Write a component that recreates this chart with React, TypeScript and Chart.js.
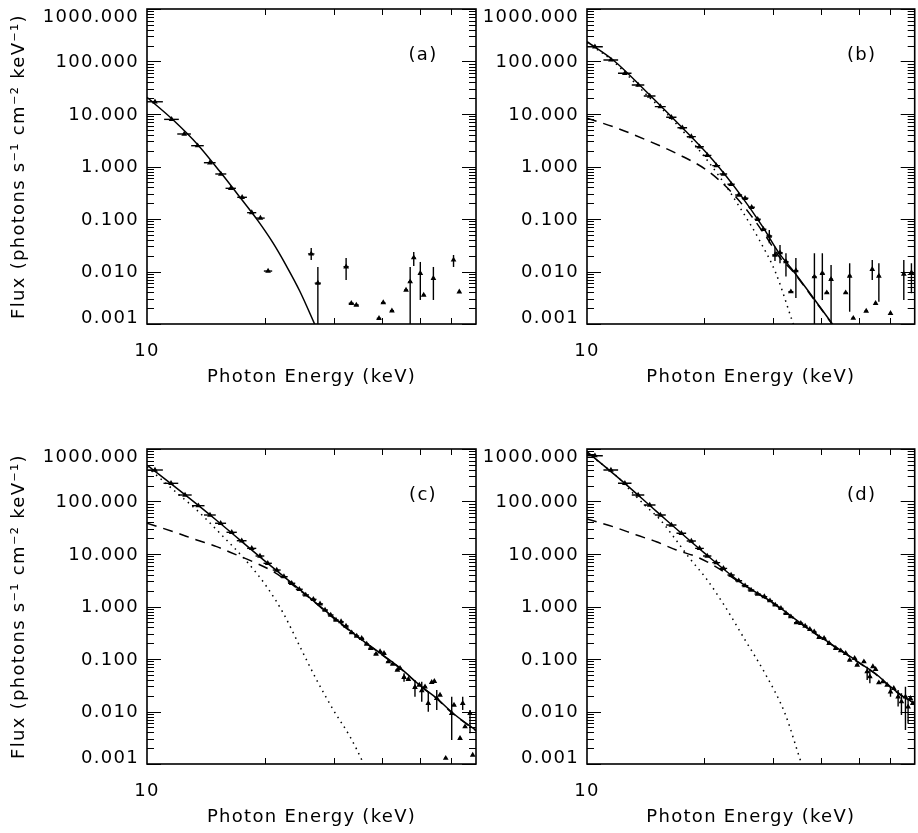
import React, { useEffect, useRef } from 'react';
import { Chart, registerables } from 'chart.js';
Chart.register(...registerables);

// ---------- axes ----------
const X_MIN = 10;
const X_MAX = 69.4;
const Y_MIN = 0.001;
const Y_MAX = 1000;
const yTickValues = [1000, 100, 10, 1, 0.1, 0.01, 0.001];
const yTickLabels = ['1000.000', '100.000', '10.000', '1.000', '0.100', '0.010', '0.001'];
const yMinorMultipliers = [2, 3, 4, 5, 6, 7, 8, 9];
const xTickValues = [10];
const xTickLabels = ['10'];
const xMinorTicks = [20, 30, 40, 50, 60];
const BIN_HALF_WIDTH = 0.5; // keV
const xTitle = 'Photon Energy (keV)';
const yTitle = 'Flux (photons s\u207B\u00B9 cm\u207B\u00B2 keV\u207B\u00B9)';

// ---------- panel (a) ----------
const aE = [10.48, 11.56, 12.45, 13.47, 14.48, 15.45, 16.38, 17.51, 18.53, 19.5, 20.4, 26.3, 27.35, 32.3, 33.3, 34.3, 39.2, 40.2, 42.3, 45.97, 47.1, 48.1, 50.0, 51.0, 54.0, 60.8, 62.9];
const aF = [17.1, 7.9, 4.16, 2.49, 1.18, 0.72, 0.384, 0.259, 0.132, 0.104, 0.0102, 0.0216, 0.006, 0.0123, 0.00248, 0.0023, 0.00128, 0.00255, 0.00179, 0.00444, 0.0064, 0.0183, 0.0092, 0.00356, 0.0074, 0.0166, 0.0041];
const aErrE = [26.3, 27.35, 32.3, 47.1, 48.1, 50.0, 54.0, 60.8];
const aErrHi = [0.028, 0.0122, 0.0181, 0.0122, 0.0235, 0.0152, 0.0122, 0.0206];
const aErrLo = [0.0166, 0.0004, 0.00689, 0.0004, 0.0127, 0.00287, 0.00287, 0.0122];
const aModelE = [10, 11.67, 13.52, 15.36, 17.27, 19.23, 21.0, 22.72, 24.56, 26.83, 27.5];
const aModelF = [20.8, 7.69, 2.55, 0.8, 0.262, 0.092, 0.035, 0.0128, 0.0043, 0.001, 0.00066];

// ---------- panel (b) ----------
const bE = [10.48, 11.52, 12.51, 13.53, 14.49, 15.43, 16.47, 17.57, 18.53, 19.45, 20.36, 21.47, 22.4, 23.44, 24.52, 25.46, 26.47, 27.43, 28.37, 29.38, 30.38, 31.3, 32.42, 33.38, 34.38, 38.36, 40.2, 41.27, 42.33, 46.15, 47.25, 48.27, 52.1, 54.0, 55.08, 56.15, 60.15, 65.07, 68.07];
const bF = [191, 107, 59.6, 35.7, 22.0, 13.8, 8.65, 5.48, 3.70, 2.38, 1.63, 1.04, 0.72, 0.458, 0.286, 0.248, 0.167, 0.0986, 0.0637, 0.0474, 0.0206, 0.0228, 0.0154, 0.00412, 0.0104, 0.00796, 0.0092, 0.00395, 0.0071, 0.00395, 0.0082, 0.00129, 0.00177, 0.011, 0.00248, 0.0082, 0.0016, 0.00896, 0.0095];
const bErrE = [29.38, 30.38, 31.3, 32.42, 34.38, 38.36, 40.2, 42.33, 47.25, 54.0, 56.15, 65.07, 68.07];
const bErrHi = [0.0617, 0.0296, 0.032, 0.0222, 0.0181, 0.0222, 0.0222, 0.0133, 0.0143, 0.0166, 0.0143, 0.0166, 0.0143];
const bErrLo = [0.0344, 0.0158, 0.0143, 0.008, 0.00313, 0.0004, 0.00287, 0.0004, 0.00171, 0.00689, 0.00266, 0.00287, 0.00385];
const bModelE = [10, 11.67, 14.21, 17.29, 21.04, 24.62, 28.24, 31.16, 33.71, 37.93, 42.66, 44.0];
const bModelF = [238, 107, 26.6, 6.17, 1.33, 0.308, 0.0715, 0.0222, 0.0107, 0.0033, 0.001, 0.00073];
const bThermE = [10, 11.67, 14.21, 15.99, 19.08, 21.89, 24.62, 27.70, 30.55, 33.71, 34.5];
const bThermF = [230, 101, 23.4, 10.3, 2.38, 0.64, 0.171, 0.0398, 0.00925, 0.0011, 0.00067];
const bNonthE = [10, 11.67, 14.21, 17.29, 20.27, 23.21, 26.12, 28.82, 31.16, 33.71, 37.93, 42.66, 44.0];
const bNonthF = [8.28, 5.73, 3.2, 1.66, 0.857, 0.356, 0.128, 0.046, 0.0191, 0.0102, 0.0032, 0.00098, 0.0007];

// ---------- panel (c) ----------
const cE = [10.48, 11.52, 12.51, 13.53, 14.49, 15.43, 16.47, 17.47, 18.53, 19.45, 20.36, 21.47, 22.4, 23.44, 24.52, 25.46, 26.63, 27.70, 28.53, 29.5, 30.43, 31.35, 32.28, 33.38, 34.38, 35.4, 36.47, 37.34, 38.52, 39.45, 40.37, 41.42, 42.5, 43.68, 44.37, 45.43, 46.6, 48.45, 49.7, 50.42, 51.4, 52.4, 53.46, 54.3, 55.08, 56.15, 58.07, 60.15, 60.97, 63.17, 64.17, 65.07, 67.0, 68.07];
const cF = [398, 222, 133, 83.2, 55.3, 38.5, 25.9, 17.9, 12.8, 9.16, 6.65, 4.95, 3.70, 2.77, 2.13, 1.66, 1.37, 1.12, 0.857, 0.689, 0.553, 0.514, 0.425, 0.317, 0.274, 0.248, 0.193, 0.16, 0.124, 0.138, 0.128, 0.0889, 0.0803, 0.0617, 0.0664, 0.0448, 0.041, 0.0289, 0.032, 0.0249, 0.0296, 0.0143, 0.0359, 0.0375, 0.0178, 0.0206, 0.00129, 0.00925, 0.0133, 0.00308, 0.0143, 0.00513, 0.00925, 0.00148];
const cErrE = [45.43, 48.45, 50.42, 52.4, 55.08, 60.15, 64.17, 67.0];
const cErrHi = [0.0533, 0.0398, 0.037, 0.0238, 0.0257, 0.0191, 0.0191, 0.0107];
const cErrLo = [0.037, 0.0191, 0.0154, 0.0099, 0.0107, 0.00287, 0.0107, 0.00385];
const cModelE = [10, 12.5, 15, 20, 25, 30, 35, 40, 45, 50, 55, 60, 65, 69.4];
const cModelF = [495, 135, 45, 7.4, 1.9, 0.62, 0.248, 0.12, 0.062, 0.031, 0.018, 0.0099, 0.0062, 0.0044];
const cThermE = [10, 12, 13.4, 15.37, 18.16, 20.24, 22.32, 24.62, 27.16, 29.96, 33.05, 35.74, 36.5];
const cThermF = [455, 140, 68.9, 24.8, 6.65, 2.38, 0.741, 0.171, 0.0398, 0.0107, 0.00331, 0.00103, 0.0007];
const cNonthE = [10, 11.67, 13.4, 15.07, 16.96, 19.07, 21.04, 25, 30, 35, 40, 45, 50, 55, 60, 65, 69.4];
const cNonthF = [38.5, 26.6, 18.5, 13.8, 9.57, 6.65, 4.6, 1.85, 0.6, 0.245, 0.118, 0.061, 0.0305, 0.0177, 0.0097, 0.0061, 0.0043];

// ---------- panel (d) ----------
const dE = [10.48, 11.52, 12.51, 13.53, 14.49, 15.43, 16.47, 17.47, 18.53, 19.45, 20.36, 21.47, 22.4, 23.44, 24.52, 25.46, 26.37, 27.43, 28.53, 29.5, 30.43, 31.47, 32.42, 33.38, 34.5, 35.4, 36.32, 37.34, 38.31, 39.44, 40.62, 41.84, 43.51, 44.82, 46.15, 47.25, 48.66, 49.4, 51.4, 52.4, 53.24, 54.2, 55.08, 56.15, 57.5, 58.97, 60.15, 61.33, 62.92, 64.17, 65.71, 66.74, 67.67, 68.6];
const dF = [745, 398, 222, 133, 85.8, 55.3, 35.7, 24.8, 17.7, 12.8, 9.16, 6.84, 5.33, 3.98, 3.1, 2.49, 2.06, 1.73, 1.54, 1.29, 1.07, 0.923, 0.741, 0.64, 0.491, 0.479, 0.425, 0.367, 0.331, 0.259, 0.248, 0.199, 0.16, 0.144, 0.128, 0.0957, 0.103, 0.0769, 0.0889, 0.0573, 0.046, 0.0715, 0.0635, 0.0354, 0.037, 0.032, 0.0238, 0.0276, 0.0191, 0.0154, 0.0191, 0.0123, 0.0178, 0.0143];
const dErrE = [52.4, 53.24, 60.15, 62.92, 64.17, 65.71, 66.74];
const dErrHi = [0.0713, 0.0617, 0.0296, 0.0257, 0.0222, 0.0296, 0.0178];
const dErrLo = [0.0398, 0.0344, 0.0191, 0.0124, 0.00857, 0.00444, 0.00596];
const dModelE = [10, 12.5, 15, 20, 25, 30, 35, 40, 45, 50, 55, 60, 65, 69.4];
const dModelF = [890, 222, 67, 10.5, 2.75, 1.18, 0.51, 0.255, 0.144, 0.085, 0.053, 0.03, 0.019, 0.0145];
const dThermE = [10, 12, 12.88, 14.21, 15.37, 16.63, 18.34, 20.24, 22.63, 25.46, 28.64, 32.22, 35.53, 36.2];
const dThermF = [840, 290, 166, 79.6, 46, 22, 8.3, 3.4, 0.99, 0.23, 0.0533, 0.00925, 0.00103, 0.0007];
const dNonthE = [10, 11.67, 13.4, 15.07, 16.96, 19.08, 21.04, 25, 30, 35, 40, 45, 50, 55, 60, 65, 69.4];
const dNonthF = [46.4, 33.1, 23, 17.1, 11.9, 8.9, 6.17, 2.7, 1.16, 0.5, 0.25, 0.141, 0.083, 0.052, 0.0295, 0.0187, 0.0143];

const FONT = '18px "DejaVu Sans", sans-serif';

const toXY = (xs: number[], ys: number[]) => xs.map((x, i) => ({ x, y: ys[i] }));

const errorBarPlugin = {
  id: 'errorBars',
  beforeDatasetsDraw(chart: any) {
    const { ctx, chartArea: ca, scales } = chart;
    const xs = scales.x, ys = scales.y;
    ctx.save();
    ctx.beginPath();
    ctx.rect(ca.left, ca.top, ca.right - ca.left, ca.bottom - ca.top);
    ctx.clip();
    ctx.strokeStyle = '#000';
    ctx.lineWidth = 1.4;
    chart.data.datasets.forEach((ds: any) => {
      if (!ds.errE) return;
      ds.data.forEach((p: any) => {
        const yp = ys.getPixelForValue(p.y);
        ctx.beginPath();
        ctx.moveTo(xs.getPixelForValue(p.x - BIN_HALF_WIDTH), yp);
        ctx.lineTo(xs.getPixelForValue(p.x + BIN_HALF_WIDTH), yp);
        ctx.stroke();
      });
      ds.errE.forEach((e: number, i: number) => {
        const xp = xs.getPixelForValue(e);
        ctx.beginPath();
        ctx.moveTo(xp, ys.getPixelForValue(ds.errHi[i]));
        ctx.lineTo(xp, ys.getPixelForValue(ds.errLo[i]));
        ctx.stroke();
      });
    });
    ctx.restore();
  },
};

const idlAxesPlugin = {
  id: 'idlAxes',
  afterDraw(chart: any, _args: any, opts: any) {
    const { ctx, chartArea: ca, scales } = chart;
    const xs = scales.x, ys = scales.y;
    ctx.save();
    ctx.strokeStyle = '#000';
    ctx.fillStyle = '#000';
    ctx.lineWidth = 1;
    ctx.beginPath();
    yTickValues.forEach((v) => {
      const marks: [number, number][] = [[v, 14], ...yMinorMultipliers.map((m) => [v * m, 7] as [number, number])];
      marks.forEach(([val, len]) => {
        if (val < Y_MIN * 0.999 || val > Y_MAX * 1.001) return;
        const p = Math.round(ys.getPixelForValue(val)) + 0.5;
        ctx.moveTo(ca.left, p);
        ctx.lineTo(ca.left + len, p);
        ctx.moveTo(ca.right, p);
        ctx.lineTo(ca.right - len, p);
      });
    });
    xMinorTicks.forEach((v) => {
      const p = Math.round(xs.getPixelForValue(v)) + 0.5;
      ctx.moveTo(p, ca.bottom);
      ctx.lineTo(p, ca.bottom - 6);
      ctx.moveTo(p, ca.top);
      ctx.lineTo(p, ca.top + 6);
    });
    ctx.stroke();
    ctx.lineWidth = 1.6;
    ctx.strokeRect(ca.left, ca.top, ca.right - ca.left, ca.bottom - ca.top);

    ctx.font = FONT;
    (ctx as any).letterSpacing = '1.3px';
    ctx.textBaseline = 'middle';
    // y tick labels
    ctx.textAlign = 'right';
    yTickValues.forEach((v, i) => {
      const p = ys.getPixelForValue(v) + 1;
      const yy = Math.min(Math.max(p, ca.top + 8), ca.bottom - 5.5);
      ctx.fillText(yTickLabels[i], ca.left - 8, yy);
    });
    // x tick labels
    ctx.textAlign = 'center';
    xTickValues.forEach((v, i) => {
      ctx.fillText(xTickLabels[i], xs.getPixelForValue(v), ca.bottom + 27);
    });
    // x title
    ctx.fillText(xTitle, (ca.left + ca.right) / 2, ca.bottom + 53);
    // panel label
    ctx.fillText(opts.label, ca.right - 53, ca.top + 46);
    // y title
    if (opts.yTitle) {
      ctx.save();
      ctx.translate(19, (ca.top + ca.bottom) / 2);
      ctx.rotate(-Math.PI / 2);
      ctx.fillText(yTitle, 0, 0);
      ctx.restore();
    }
    ctx.restore();
  },
};

type PanelProps = {
  left: number; top: number; width: number; height: number;
  area: { l: number; t: number; r: number; b: number };
  label: string; showYTitle: boolean;
  E: number[]; F: number[]; errE: number[]; errHi: number[]; errLo: number[];
  modelE: number[]; modelF: number[];
  thermE?: number[]; thermF?: number[]; nonthE?: number[]; nonthF?: number[];
};

function Panel(props: PanelProps) {
  const ref = useRef<HTMLCanvasElement | null>(null);
  useEffect(() => {
    const canvas = ref.current;
    if (!canvas) return;
    const lineBase = {
      showLine: true, borderColor: '#000', borderWidth: 1.5, pointRadius: 0, pointHoverRadius: 0,
      fill: false, cubicInterpolationMode: 'monotone' as const,
    };
    const datasets: any[] = [];
    if (props.thermE && props.thermF) {
      datasets.push({ ...lineBase, label: 'thermal', data: toXY(props.thermE, props.thermF), borderDash: [1.5, 4.5], borderWidth: 1.5 });
    }
    if (props.nonthE && props.nonthF) {
      datasets.push({ ...lineBase, label: 'non-thermal', data: toXY(props.nonthE, props.nonthF), borderDash: [10, 7] });
    }
    datasets.push({ ...lineBase, label: 'total', data: toXY(props.modelE, props.modelF) });
    datasets.push({
      label: 'data', data: toXY(props.E, props.F), showLine: false,
      pointStyle: 'triangle', pointRadius: 3.3, pointHoverRadius: 3.3,
      pointBackgroundColor: '#000', pointBorderColor: '#000', pointBorderWidth: 0,
      errE: props.errE, errHi: props.errHi, errLo: props.errLo,
    });
    const { l, t, r, b } = props.area;
    const chart = new Chart(canvas, {
      type: 'line',
      data: { datasets },
      options: {
        responsive: false,
        animation: false,
        devicePixelRatio: 1,
        events: [],
        layout: {
          padding: {
            left: l - props.left,
            top: t - props.top,
            right: props.left + props.width - r,
            bottom: props.top + props.height - b,
          },
        },
        scales: {
          x: { type: 'logarithmic', min: X_MIN, max: X_MAX, display: false },
          y: { type: 'logarithmic', min: Y_MIN, max: Y_MAX, display: false },
        },
        plugins: {
          legend: { display: false },
          tooltip: { enabled: false },
          idlAxes: { label: props.label, yTitle: props.showYTitle },
        } as any,
      },
      plugins: [errorBarPlugin, idlAxesPlugin],
    } as any);
    return () => chart.destroy();
  }, []);
  return (
    <canvas
      ref={ref}
      width={props.width}
      height={props.height}
      style={{ position: 'absolute', left: props.left, top: props.top, width: props.width, height: props.height }}
    />
  );
}

export default function App() {
  return (
    <div style={{ position: 'absolute', left: 0, top: 0, width: 918, height: 833, background: '#fff', overflow: 'hidden' }}>
      <Panel left={0} top={0} width={480} height={416} area={{ l: 147, t: 9, r: 476, b: 324 }} label="(a)" showYTitle
        E={aE} F={aF} errE={aErrE} errHi={aErrHi} errLo={aErrLo} modelE={aModelE} modelF={aModelF} />
      <Panel left={440} top={0} width={478} height={416} area={{ l: 587, t: 9, r: 916, b: 324 }} label="(b)" showYTitle={false}
        E={bE} F={bF} errE={bErrE} errHi={bErrHi} errLo={bErrLo} modelE={bModelE} modelF={bModelF}
        thermE={bThermE} thermF={bThermF} nonthE={bNonthE} nonthF={bNonthF} />
      <Panel left={0} top={416} width={480} height={417} area={{ l: 147, t: 449, r: 476, b: 764 }} label="(c)" showYTitle
        E={cE} F={cF} errE={cErrE} errHi={cErrHi} errLo={cErrLo} modelE={cModelE} modelF={cModelF}
        thermE={cThermE} thermF={cThermF} nonthE={cNonthE} nonthF={cNonthF} />
      <Panel left={440} top={416} width={478} height={417} area={{ l: 587, t: 449, r: 916, b: 764 }} label="(d)" showYTitle={false}
        E={dE} F={dF} errE={dErrE} errHi={dErrHi} errLo={dErrLo} modelE={dModelE} modelF={dModelF}
        thermE={dThermE} thermF={dThermF} nonthE={dNonthE} nonthF={dNonthF} />
    </div>
  );
}
